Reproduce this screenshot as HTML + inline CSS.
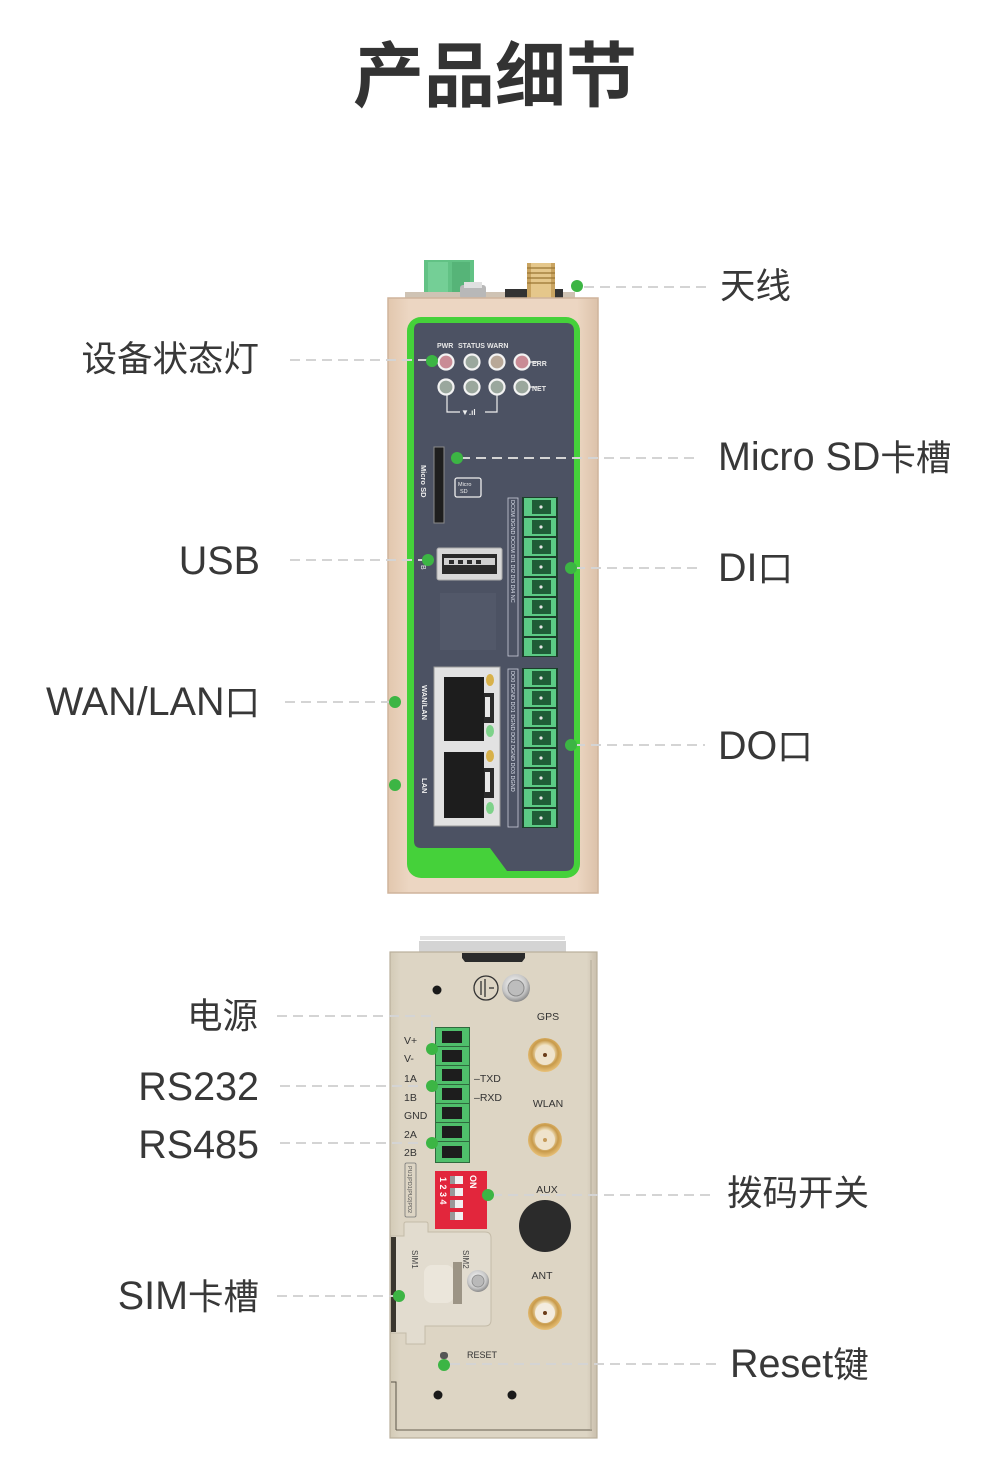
<!DOCTYPE html>
<html><head><meta charset="utf-8">
<style>
html,body{margin:0;padding:0;background:#fff;}
body{width:989px;height:1471px;overflow:hidden;position:relative;}
svg{position:absolute;left:0;top:0;}
.lbl{font-family:"Liberation Sans","Noto Sans CJK SC",sans-serif;font-size:39.5px;fill:#383838;}
.lbl .c{font-family:"Noto Sans CJK SC",sans-serif;font-size:35.5px;}
.cj{font-family:"Noto Sans CJK SC",sans-serif;font-size:35.5px;fill:#383838;}
.sm{font-family:"Liberation Sans",sans-serif;fill:#333;}
</style></head>
<body>
<svg width="989" height="1471" viewBox="0 0 989 1471" xmlns="http://www.w3.org/2000/svg">
<defs>
  <radialGradient id="gold" cx="50%" cy="45%" r="55%">
    <stop offset="0" stop-color="#fff6dc"/>
    <stop offset="0.45" stop-color="#f0e2c0"/>
    <stop offset="0.7" stop-color="#c89a4a"/>
    <stop offset="1" stop-color="#e9c27a"/>
  </radialGradient>
  <radialGradient id="screw" cx="45%" cy="40%" r="60%">
    <stop offset="0" stop-color="#ffffff"/>
    <stop offset="0.7" stop-color="#c8c8c8"/>
    <stop offset="1" stop-color="#8a8a8a"/>
  </radialGradient>
  <linearGradient id="body1" x1="0" x2="1">
    <stop offset="0" stop-color="#e2c7ae"/>
    <stop offset="0.1" stop-color="#ecd6c2"/>
    <stop offset="0.9" stop-color="#ecd6c2"/>
    <stop offset="1" stop-color="#dcc2aa"/>
  </linearGradient>
  <linearGradient id="body2" x1="0" x2="1">
    <stop offset="0" stop-color="#d3cab6"/>
    <stop offset="0.05" stop-color="#ddd5c4"/>
    <stop offset="0.95" stop-color="#ddd5c4"/>
    <stop offset="1" stop-color="#c9bfac"/>
  </linearGradient>
</defs>

<!-- Title -->
<text x="495" y="101" text-anchor="middle" font-family="'Noto Sans CJK SC',sans-serif" font-weight="700" font-size="71" fill="#333">产品细节</text>

<!-- ================= TOP DEVICE ================= -->
<rect x="424" y="260" width="50" height="38" fill="#62c285"/>
<rect x="428" y="262" width="20" height="34" fill="#74cf96"/>
<rect x="452" y="262" width="18" height="34" fill="#56b478"/>
<rect x="405" y="292" width="170" height="8" fill="#cfc3b4"/>
<rect x="460" y="285" width="26" height="14" rx="3" fill="#b8b8b8"/>
<rect x="464" y="282" width="18" height="6" fill="#e0e0e0"/>
<rect x="505" y="289" width="58" height="11" fill="#333"/>
<rect x="527" y="263" width="28" height="36" fill="#c9a461"/>
<rect x="531" y="263" width="20" height="36" fill="#e5c78b"/>
<g stroke="#9b7633" stroke-width="1.2">
<line x1="527" y1="268" x2="555" y2="268"/><line x1="527" y1="273" x2="555" y2="273"/><line x1="527" y1="278" x2="555" y2="278"/><line x1="527" y1="283" x2="555" y2="283"/>
</g>

<rect x="388" y="298" width="210" height="595" fill="url(#body1)" stroke="#cfb49c" stroke-width="1.5"/>
<rect x="407" y="317" width="173" height="561" rx="14" fill="#45d13a"/>
<path d="M420 323 H566 Q574 323 574 331 V862 Q574 871 565 871 H507 L490 848 H421 Q414 848 414 841 V330 Q414 323 420 323 Z" fill="#4c5263"/>

<g font-family="Liberation Sans,sans-serif" font-size="7" fill="#e8e8e8" font-weight="700">
<text x="437" y="348">PWR</text><text x="458" y="348">STATUS</text><text x="487" y="348">WARN</text>
<text x="532" y="366">ERR</text><text x="532" y="391">NET</text>
</g>
<g stroke="#f2f2f2" stroke-width="2.2">
<circle cx="446" cy="362" r="7.5" fill="#c98b95"/>
<circle cx="472" cy="362" r="7.5" fill="#9aa79d"/>
<circle cx="497" cy="362" r="7.5" fill="#b8a898"/>
<circle cx="522" cy="362" r="7.5" fill="#c98b95"/>
<circle cx="446" cy="387" r="7.5" fill="#9aa79d"/>
<circle cx="472" cy="387" r="7.5" fill="#9aa79d"/>
<circle cx="497" cy="387" r="7.5" fill="#9aa79d"/>
<circle cx="522" cy="387" r="7.5" fill="#9aa79d"/>
</g>
<g stroke="#eee" stroke-width="1.2" fill="none">
<line x1="530" y1="362" x2="537" y2="362"/><line x1="530" y1="387" x2="537" y2="387"/>
<path d="M447 395 V412 H460 M485 412 H497 V395"/>
</g>
<text x="461" y="415" font-family="Liberation Sans,sans-serif" font-size="8" fill="#eee" font-weight="700">▼.ıl</text>

<rect x="434" y="447" width="10" height="76" fill="#1e1e1e" stroke="#8a8a8a" stroke-width="1"/>
<text transform="translate(421,465) rotate(90)" font-family="Liberation Sans,sans-serif" font-size="7.5" font-weight="700" fill="#eee">Micro SD</text>
<rect x="455" y="478" width="26" height="19" rx="2" fill="none" stroke="#eee" stroke-width="1.3"/>
<text x="458" y="486" font-family="Liberation Sans,sans-serif" font-size="5.5" fill="#eee">Micro</text>
<text x="460" y="493" font-family="Liberation Sans,sans-serif" font-size="5.5" fill="#eee">SD</text>

<rect x="437" y="548" width="65" height="32" rx="2" fill="#d8d8d8" stroke="#aaa"/>
<rect x="442" y="554" width="55" height="20" fill="#2a2a2a"/>
<rect x="444" y="558" width="51" height="7" fill="#d0d0d0"/>
<g fill="#2a2a2a"><rect x="449" y="560" width="5" height="4"/><rect x="458" y="560" width="5" height="4"/><rect x="467" y="560" width="5" height="4"/><rect x="476" y="560" width="5" height="4"/></g>
<text transform="translate(421,565) rotate(90)" font-family="Liberation Sans,sans-serif" font-size="7" fill="#eee">B</text>
<rect x="440" y="593" width="56" height="57" fill="#525869"/>

<rect x="508" y="498" width="10" height="158" fill="none" stroke="#c8ccd8" stroke-width="0.8"/>
<g font-family="Liberation Sans,sans-serif" font-size="5.5" fill="#dfe3ee">
<text transform="translate(511,500) rotate(90)">DCOM DGND DCOM DI1 DI2 DI3 DI4 NC</text>
</g>
<rect x="522" y="497" width="36" height="160" fill="#1c3f2a"/>

<rect x="434" y="667" width="66" height="159" fill="#e2e2e2" stroke="#9a9a9a"/>
<rect x="444" y="677" width="40" height="64" fill="#1d1d1d"/>
<rect x="444" y="752" width="40" height="66" fill="#1d1d1d"/>
<rect x="484" y="693" width="10" height="30" fill="#2a2a2a"/>
<rect x="484" y="768" width="10" height="30" fill="#2a2a2a"/>
<rect x="485" y="697" width="5" height="20" fill="#e8e8e8"/>
<rect x="485" y="772" width="5" height="20" fill="#e8e8e8"/>
<ellipse cx="490" cy="680" rx="4" ry="6" fill="#d8b14a"/>
<ellipse cx="490" cy="731" rx="4" ry="6" fill="#7ed28a"/>
<ellipse cx="490" cy="756" rx="4" ry="6" fill="#d8b14a"/>
<ellipse cx="490" cy="808" rx="4" ry="6" fill="#7ed28a"/>
<text transform="translate(422,685) rotate(90)" font-family="Liberation Sans,sans-serif" font-size="7.5" font-weight="700" fill="#eee">WAN/LAN</text>
<text transform="translate(422,778) rotate(90)" font-family="Liberation Sans,sans-serif" font-size="7.5" font-weight="700" fill="#eee">LAN</text>

<rect x="508" y="669" width="10" height="158" fill="none" stroke="#c8ccd8" stroke-width="0.8"/>
<g font-family="Liberation Sans,sans-serif" font-size="5.5" fill="#dfe3ee">
<text transform="translate(511,671) rotate(90)">DO0 DGND DO1 DGND DO2 DGND DO3 DGND</text>
</g>
<rect x="522" y="668" width="36" height="160" fill="#1c3f2a"/>

<g transform="translate(0,497)">
<g id="plugs8">
<rect x="524" y="1" width="32" height="18" fill="#5ccb85"/><rect x="532" y="3" width="19" height="14" fill="#1f5c37"/><circle cx="541" cy="10" r="1.6" fill="#e8e8e8"/>
<rect x="524" y="21" width="32" height="18" fill="#5ccb85"/><rect x="532" y="23" width="19" height="14" fill="#1f5c37"/><circle cx="541" cy="30" r="1.6" fill="#e8e8e8"/>
<rect x="524" y="41" width="32" height="18" fill="#5ccb85"/><rect x="532" y="43" width="19" height="14" fill="#1f5c37"/><circle cx="541" cy="50" r="1.6" fill="#e8e8e8"/>
<rect x="524" y="61" width="32" height="18" fill="#5ccb85"/><rect x="532" y="63" width="19" height="14" fill="#1f5c37"/><circle cx="541" cy="70" r="1.6" fill="#e8e8e8"/>
<rect x="524" y="81" width="32" height="18" fill="#5ccb85"/><rect x="532" y="83" width="19" height="14" fill="#1f5c37"/><circle cx="541" cy="90" r="1.6" fill="#e8e8e8"/>
<rect x="524" y="101" width="32" height="18" fill="#5ccb85"/><rect x="532" y="103" width="19" height="14" fill="#1f5c37"/><circle cx="541" cy="110" r="1.6" fill="#e8e8e8"/>
<rect x="524" y="121" width="32" height="18" fill="#5ccb85"/><rect x="532" y="123" width="19" height="14" fill="#1f5c37"/><circle cx="541" cy="130" r="1.6" fill="#e8e8e8"/>
<rect x="524" y="141" width="32" height="18" fill="#5ccb85"/><rect x="532" y="143" width="19" height="14" fill="#1f5c37"/><circle cx="541" cy="150" r="1.6" fill="#e8e8e8"/>
</g>
</g>
<g transform="translate(0,668)"><use href="#plugs8"/></g>

<!-- ================= BOTTOM DEVICE ================= -->
<rect x="420" y="936" width="145" height="4" fill="#e2e2e2"/>
<rect x="419" y="941" width="147" height="12" fill="#d4d4d4"/>
<rect x="390" y="952" width="207" height="486" fill="url(#body2)" stroke="#b9af9b" stroke-width="1.2"/>
<line x1="396" y1="1430" x2="592" y2="1430" stroke="#8e8676" stroke-width="1.5"/>
<line x1="591" y1="960" x2="591" y2="1430" stroke="#b3aa97" stroke-width="1"/>
<path d="M462 953 H525 V958 L522 962 H465 L462 958 Z" fill="#2b2b2b"/>
<circle cx="437" cy="990" r="4.5" fill="#1a1a1a"/>
<circle cx="486" cy="988" r="12" fill="none" stroke="#333" stroke-width="1.3"/>
<g stroke="#333" stroke-width="1.3"><line x1="481" y1="981" x2="481" y2="995"/><line x1="485" y1="979" x2="485" y2="997"/><line x1="489" y1="988" x2="494" y2="988"/></g>
<circle cx="516" cy="988" r="14" fill="url(#screw)"/>
<circle cx="516" cy="988" r="8" fill="#bdbdbd" stroke="#888"/>

<rect x="435" y="1027" width="35" height="136" fill="#2f6a3e"/>
<g fill="#4fbf6b">
<rect x="436" y="1028" width="33" height="18"/><rect x="436" y="1047" width="33" height="18"/><rect x="436" y="1066" width="33" height="18"/><rect x="436" y="1085" width="33" height="18"/><rect x="436" y="1104" width="33" height="18"/><rect x="436" y="1123" width="33" height="18"/><rect x="436" y="1142" width="33" height="20"/>
</g>
<g fill="#1d1d1d">
<rect x="442" y="1031" width="20" height="12"/><rect x="442" y="1050" width="20" height="12"/><rect x="442" y="1069" width="20" height="12"/><rect x="442" y="1088" width="20" height="12"/><rect x="442" y="1107" width="20" height="12"/><rect x="442" y="1126" width="20" height="12"/><rect x="442" y="1146" width="20" height="12"/>
</g>
<g class="sm" font-size="10.5">
<text x="404" y="1044">V+</text><text x="404" y="1062">V-</text><text x="404" y="1082">1A</text><text x="404" y="1101">1B</text><text x="404" y="1119">GND</text><text x="404" y="1138">2A</text><text x="404" y="1156">2B</text>
<text x="474" y="1082">–TXD</text><text x="474" y="1101">–RXD</text>
</g>
<rect x="405" y="1163" width="11" height="54" rx="1.5" fill="none" stroke="#777" stroke-width="0.8"/>
<text transform="translate(408,1166) rotate(90)" font-family="Liberation Sans,sans-serif" font-size="5.5" fill="#555">PU1|PD1|PU2|PD2</text>

<rect x="435" y="1171" width="52" height="58" fill="#e2263c"/>
<g fill="#f0f0f0"><rect x="450" y="1176" width="13" height="8"/><rect x="450" y="1188" width="13" height="8"/><rect x="450" y="1200" width="13" height="8"/><rect x="450" y="1212" width="13" height="8"/></g>
<g fill="#999"><rect x="450" y="1176" width="5" height="8"/><rect x="450" y="1188" width="5" height="8"/><rect x="450" y="1200" width="5" height="8"/><rect x="450" y="1212" width="5" height="8"/></g>
<g font-family="Liberation Sans,sans-serif" font-size="9" fill="#fff" font-weight="700">
<text transform="translate(440,1177) rotate(90)">1 2 3 4</text>
<text transform="translate(470,1175) rotate(90)">ON</text>
</g>

<g class="sm" font-size="10.5" text-anchor="middle">
<text x="548" y="1020">GPS</text><text x="548" y="1107">WLAN</text><text x="547" y="1193">AUX</text><text x="542" y="1279">ANT</text>
<text x="482" y="1358" font-size="9">RESET</text>
</g>
<circle cx="545" cy="1055" r="17" fill="url(#gold)"/><circle cx="545" cy="1055" r="10" fill="#efe3cc"/><circle cx="545" cy="1055" r="2" fill="#6b3d1a"/>
<circle cx="545" cy="1140" r="17" fill="url(#gold)"/><circle cx="545" cy="1140" r="10" fill="#efe3cc"/><circle cx="545" cy="1140" r="2" fill="#c59a5a"/>
<circle cx="545" cy="1226" r="26" fill="#2b2b2b"/>
<circle cx="545" cy="1313" r="17" fill="url(#gold)"/><circle cx="545" cy="1313" r="10" fill="#f3ece0"/><circle cx="545" cy="1313" r="2" fill="#6b3d1a"/>

<path d="M391 1236 H404 V1224 Q404 1222 406 1222 H426 Q428 1222 428 1224 V1232 H485 Q491 1232 491 1238 V1320 Q491 1326 485 1326 H425 V1344 H406 V1333 H391 Z" fill="#e2dccf" stroke="#c4bba8" stroke-width="1"/>
<path d="M391 1237 H396 V1332 H391 Z" fill="#3a362e"/>
<rect x="424" y="1265" width="30" height="38" rx="8" fill="#ebe6db"/>
<rect x="453" y="1262" width="9" height="42" fill="#9c9485"/>
<circle cx="478" cy="1281" r="11" fill="url(#screw)"/>
<circle cx="478" cy="1281" r="6" fill="#b9b9b9" stroke="#888" stroke-width="0.8"/>
<g font-family="Liberation Sans,sans-serif" font-size="8" fill="#444">
<text transform="translate(412,1250) rotate(90)">SIM1</text>
<text transform="translate(463,1250) rotate(90)">SIM2</text>
</g>
<rect x="440" y="1352" width="8" height="7" rx="3" fill="#555"/>
<circle cx="438" cy="1395" r="4.5" fill="#1a1a1a"/>
<circle cx="512" cy="1395" r="4.5" fill="#1a1a1a"/>
<path d="M391 1382 H396 V1430" fill="none" stroke="#5a5448" stroke-width="1"/>

<!-- ================= DASHED LEADERS ================= -->
<g stroke="#d4d4d4" stroke-width="2" stroke-dasharray="10 6" fill="none">
<line x1="584" y1="287" x2="706" y2="287"/>
<line x1="290" y1="360" x2="432" y2="360"/>
<line x1="460" y1="458" x2="700" y2="458"/>
<line x1="290" y1="560" x2="428" y2="560"/>
<line x1="575" y1="568" x2="698" y2="568"/>
<line x1="285" y1="702" x2="395" y2="702"/>
<line x1="575" y1="745" x2="705" y2="745"/>
<path d="M277 1016 H432 V1049"/>
<line x1="280" y1="1086" x2="432" y2="1086"/>
<line x1="280" y1="1143" x2="432" y2="1143"/>
<line x1="492" y1="1195" x2="712" y2="1195"/>
<line x1="277" y1="1296" x2="399" y2="1296"/>
<line x1="450" y1="1364" x2="718" y2="1364"/>
</g>

<g fill="#3cb544">
<circle cx="577" cy="286" r="6"/>
<circle cx="432" cy="361" r="6"/>
<circle cx="457" cy="458" r="6"/>
<circle cx="428" cy="560" r="6"/>
<circle cx="571" cy="568" r="6"/>
<circle cx="395" cy="702" r="6"/>
<circle cx="395" cy="785" r="6"/>
<circle cx="571" cy="745" r="6"/>
<circle cx="432" cy="1049" r="6"/>
<circle cx="432" cy="1086" r="6"/>
<circle cx="432" cy="1143" r="6"/>
<circle cx="488" cy="1195" r="6"/>
<circle cx="399" cy="1296" r="6"/>
<circle cx="444" cy="1365" r="6"/>
</g>

<!-- ================= LABELS ================= -->
<text class="cj" x="720" y="298">天线</text>
<text class="cj" x="259" y="371" text-anchor="end">设备状态灯</text>
<text class="cj" x="258" y="1028" text-anchor="end">电源</text>
<text class="cj" x="727" y="1205">拨码开关</text>
<g class="lbl">
<text x="718" y="470">Micro SD<tspan class="c">卡槽</tspan></text>
<text x="260" y="574" text-anchor="end">USB</text>
<text x="718" y="581">DI<tspan class="c">口</tspan></text>
<text x="260" y="715" text-anchor="end">WAN/LAN<tspan class="c">口</tspan></text>
<text x="718" y="759">DO<tspan class="c">口</tspan></text>
<text x="259" y="1100" text-anchor="end">RS232</text>
<text x="259" y="1158" text-anchor="end">RS485</text>
<text x="259" y="1309" text-anchor="end">SIM<tspan class="c">卡槽</tspan></text>
<text x="730" y="1377">Reset<tspan class="c">键</tspan></text>
</g>
</svg>
</body></html>
